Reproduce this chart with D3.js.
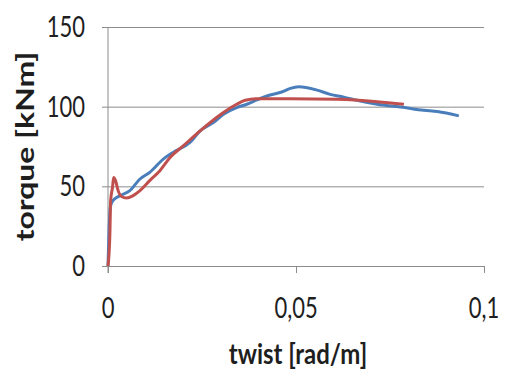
<!DOCTYPE html>
<html>
  <head>
    <meta charset="utf-8">
    <title>torque vs twist</title>
    <script type="text/javascript" src="https://d3js.org/d3.v7.min.js"></script>
    <style>
      body { margin: 0; background: #fff; }
      text { font-family: Lato, sans-serif; fill: #1e1e1e; }
    </style>
  </head>
  <body>
    <div id="chart"></div>
    <script type="text/javascript">
        // measured test curves (twist in rad/m, torque in kNm)
        var blueTwist = [0, 0.0006, 0.0013, 0.0031, 0.0058, 0.0085, 0.0111, 0.0147, 0.0173, 0.0218, 0.0245, 0.028, 0.0307, 0.0342, 0.0369, 0.0396, 0.0431, 0.0462, 0.0485, 0.0507, 0.0556, 0.0591, 0.0627, 0.0662, 0.0716, 0.0778, 0.084, 0.0876, 0.0933];
        var blueTorque = [0, 36.9, 41, 44, 47.3, 54.6, 58.8, 67.1, 71.3, 77.5, 84.8, 90, 95.2, 99.4, 101.5, 104.2, 107.3, 109.2, 111.5, 112.5, 110.4, 107.7, 106, 104, 101.5, 99.8, 97.7, 96.9, 94.2];
        var redTwist = [0, 0.0005, 0.0007, 0.0012, 0.0015, 0.002, 0.0027, 0.0036, 0.0049, 0.0067, 0.0085, 0.0111, 0.0138, 0.0165, 0.02, 0.0245, 0.0307, 0.0342, 0.0365, 0.0396, 0.0485, 0.0609, 0.0716, 0.0787];
        var redTorque = [0, 20, 41, 49.4, 55.6, 53.6, 47.3, 43.6, 42.7, 44.2, 47.3, 53.6, 59.8, 68.1, 75.4, 84.8, 96.3, 101.5, 104, 105, 105, 104.6, 103.1, 101.5];
        var xTicks = [0, 0.05, 0.1];
        var xTickLabels = ["0", "0,05", "0,1"];
        var yTicks = [0, 50, 100, 150];

        var width = 516, height = 374;
        var margin = {top: 27, right: 32, bottom: 108, left: 108};
        var stretch = 1.27; // the original text looks tall and narrow

        var svg = d3.select("#chart").append("svg")
            .attr("width", width)
            .attr("height", height);

        var x = d3.scaleLinear().domain([0, 0.1]).range([margin.left, width - margin.right]);
        var y = d3.scaleLinear().domain([0, 150]).range([height - margin.bottom, margin.top]);

        // horizontal gridlines
        svg.append("g")
            .attr("transform", "translate(" + margin.left + ",0)")
            .call(d3.axisLeft(y).tickValues(yTicks).tickSize(-(width - margin.right - margin.left)).tickFormat(""))
            .call(function(g){ g.select(".domain").remove(); })
            .selectAll("line").attr("stroke", "#8c8c8c").attr("x1", -6);

        // y tick labels
        svg.append("g").selectAll("g")
            .data(yTicks).enter().append("g")
            .attr("transform", function(d){ return "translate(85," + y(d) + ") scale(1," + stretch + ")"; })
            .append("text")
            .attr("dy", "0.36em")
            .attr("text-anchor", "end")
            .style("font-size", "22px")
            .text(function(d){ return d; });

        // x axis with ticks pointing down
        svg.append("g")
            .attr("transform", "translate(0," + y(0) + ")")
            .call(d3.axisBottom(x).tickValues(xTicks).tickSize(7).tickFormat(""))
            .call(function(g){
                g.select(".domain").remove();
                g.selectAll("line").attr("stroke", "#8c8c8c");
            });

        svg.append("line")
            .attr("x1", x(0)).attr("x2", x(0))
            .attr("y1", y(150)).attr("y2", y(0) + 7)
            .attr("stroke", "#8c8c8c");

        svg.append("g").selectAll("g")
            .data(xTicks).enter().append("g")
            .attr("transform", function(d){ return "translate(" + x(d) + ",318) scale(1," + stretch + ")"; })
            .append("text")
            .attr("text-anchor", "middle")
            .style("font-size", "22px")
            .text(function(d, i){ return xTickLabels[i]; });

        var line = d3.line()
            .x(function(d){ return x(d[0]); })
            .y(function(d){ return y(d[1]); })
            .curve(d3.curveMonotoneX);

        svg.append("path")
            .datum(blueTwist.map(function(t, i){ return [t, blueTorque[i]]; }))
            .attr("fill", "none")
            .attr("stroke", "#4a7ebb")
            .attr("stroke-width", 3)
            .attr("d", line);

        svg.append("path")
            .datum(redTwist.map(function(t, i){ return [t, redTorque[i]]; }))
            .attr("fill", "none")
            .attr("stroke", "#c0504d")
            .attr("stroke-width", 3)
            .attr("d", line);

        // axis titles
        svg.append("text")
            .attr("transform", "translate(" + ((x(0) + x(0.1)) / 2 + 2) + ",364) scale(1,1.2)")
            .attr("text-anchor", "middle")
            .style("font-size", "24px")
            .style("font-weight", "bold")
            .text("twist [rad/m]");

        svg.append("text")
            .attr("transform", "translate(34," + y(75) + ") scale(1,1.33) rotate(-90)")
            .attr("text-anchor", "middle")
            .style("font-size", "24px")
            .style("font-weight", "bold")
            .text("torque [kNm]");
    </script>
  </body>
</html>
